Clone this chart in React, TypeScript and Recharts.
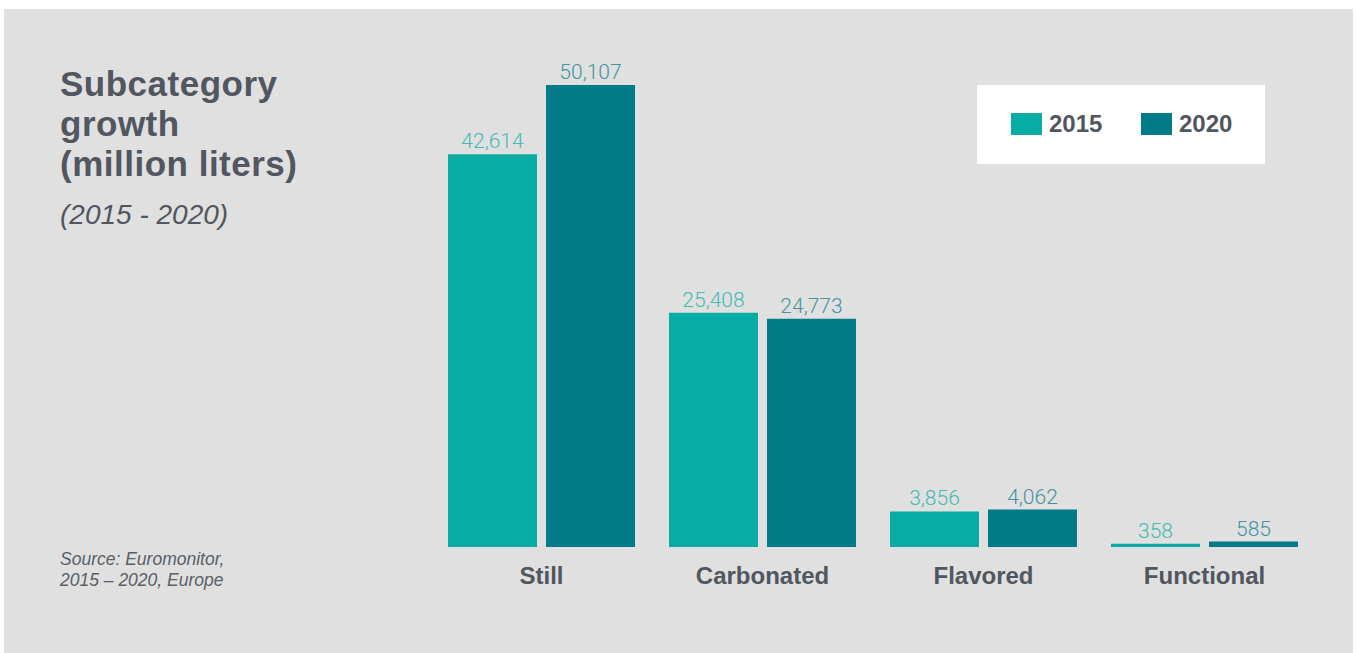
import React from 'react';
import { BarChart, Bar, XAxis, YAxis, Legend, LabelList } from 'recharts';

const categories = ['Still', 'Carbonated', 'Flavored', 'Functional'];
const values2015 = [42614, 25408, 3856, 358];
const values2020 = [50107, 24773, 4062, 585];
const seriesNames = ['2015', '2020'];

const COLOR_2015 = '#07ada5';
const COLOR_2020 = '#017b87';
const TEXT = '#51565f';
const FONT = '"Liberation Sans", Arial, sans-serif';

const data = categories.map((name, i) => ({
  name,
  y2015: values2015[i],
  y2020: values2020[i],
}));

const fmt = (v: any) => Number(v).toLocaleString('en-US');

const LegendBox = () => (
  <div
    style={{
      width: 288,
      height: 79,
      background: '#ffffff',
      position: 'relative',
      fontFamily: FONT,
      fontWeight: 700,
      fontSize: 24,
      color: TEXT,
    }}
  >
    {seriesNames.map((s, i) => (
      <div
        key={s}
        style={{
          position: 'absolute',
          left: i === 0 ? 34 : 164,
          top: 27,
          display: 'flex',
          alignItems: 'center',
        }}
      >
        <span
          style={{
            display: 'inline-block',
            width: 31,
            height: 22,
            background: i === 0 ? COLOR_2015 : COLOR_2020,
            marginRight: 7,
          }}
        />
        <span style={{ lineHeight: '24px' }}>{s}</span>
      </div>
    ))}
  </div>
);

export default function App() {
  return (
    <div
      style={{
        position: 'absolute',
        left: 0,
        top: 0,
        width: 1357,
        height: 653,
        background: '#ffffff',
        overflow: 'hidden',
      }}
    >
      <div
        style={{
          position: 'absolute',
          left: 4,
          top: 9,
          width: 1349,
          height: 644,
          background: '#dfe0df',
        }}
      />
      <div
        style={{
          position: 'absolute',
          left: 60,
          top: 64,
          fontFamily: FONT,
          fontWeight: 700,
          fontSize: 35,
          lineHeight: '40px',
          letterSpacing: 0.5,
          color: TEXT,
        }}
      >
        Subcategory
        <br />
        growth
        <br />
        (million liters)
      </div>
      <div
        style={{
          position: 'absolute',
          left: 60,
          top: 199,
          fontFamily: FONT,
          fontStyle: 'italic',
          fontSize: 28,
          lineHeight: '32px',
          color: TEXT,
        }}
      >
        (2015 - 2020)
      </div>
      <div
        style={{
          position: 'absolute',
          left: 60,
          top: 549,
          fontFamily: FONT,
          fontStyle: 'italic',
          fontSize: 17.5,
          lineHeight: '21px',
          color: '#5a5f68',
        }}
      >
        Source: Euromonitor,
        <br />
        2015 – 2020, Europe
      </div>
      <div style={{ position: 'absolute', left: 0, top: 0 }}>
        <BarChart
          width={1357}
          height={653}
          data={data}
          margin={{ top: 40, right: 42, bottom: 66, left: 431 }}
          barSize={89}
          barGap={9}
        >
          <XAxis
            dataKey="name"
            axisLine={false}
            tickLine={false}
            tickSize={0}
            tickMargin={20}
            height={40}
            interval={0}
            tick={{ fill: TEXT, fontSize: 24, fontWeight: 700, fontFamily: FONT }}
          />
          <YAxis hide domain={[0, 55000]} />
          <Legend
            verticalAlign="middle"
            align="center"
            layout="horizontal"
            content={() => <LegendBox />}
            wrapperStyle={{ position: 'absolute', left: 977, top: 85, width: 288, height: 79 }}
          />
          <Bar dataKey="y2015" name="2015" fill={COLOR_2015} isAnimationActive={false}>
            <LabelList
              dataKey="y2015"
              position="top"
              offset={6}
              formatter={fmt}
              style={{ fill: '#45bbb3', fontSize: 21, fontWeight: 300, fontFamily: 'Roboto, "Liberation Sans", sans-serif' }}
            />
          </Bar>
          <Bar dataKey="y2020" name="2020" fill={COLOR_2020} isAnimationActive={false}>
            <LabelList
              dataKey="y2020"
              position="top"
              offset={6}
              formatter={fmt}
              style={{ fill: '#43949f', fontSize: 21, fontWeight: 300, fontFamily: 'Roboto, "Liberation Sans", sans-serif' }}
            />
          </Bar>
        </BarChart>
      </div>
    </div>
  );
}
